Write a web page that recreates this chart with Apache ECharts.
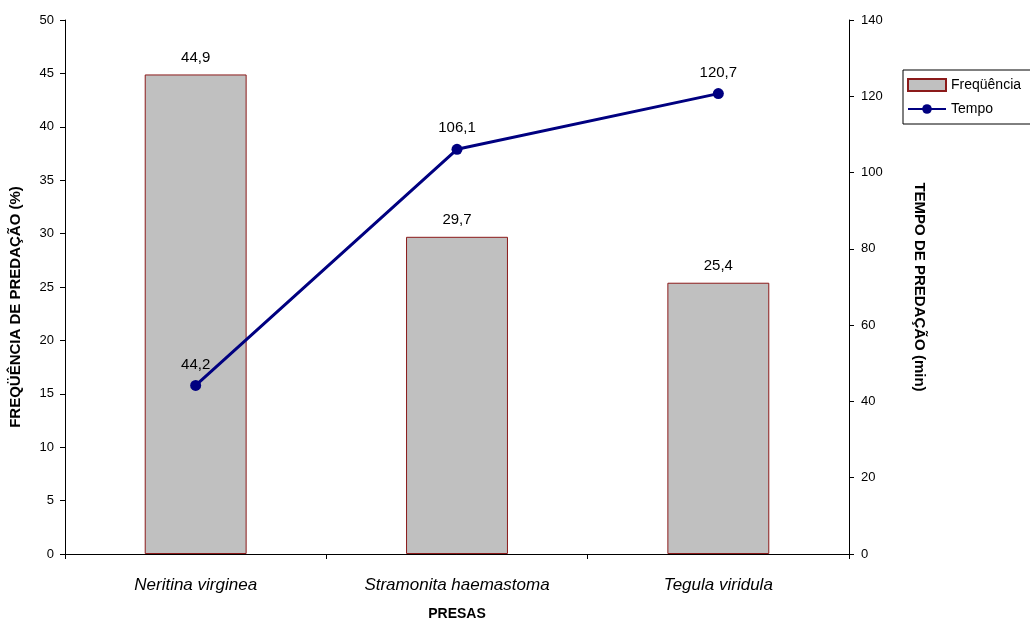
<!DOCTYPE html>
<html>
<head>
<meta charset="utf-8">
<script src="https://cdn.jsdelivr.net/npm/echarts@6/dist/echarts.min.js"></script>
<style>
  html, body {margin: 0; padding: 0; background: #fff;}
  #chart {width: 1030px; height: 621px;}
</style>
</head>
<body>
<div id="chart"></div>
<script>
const presas = ['Neritina virginea', 'Stramonita haemastoma', 'Tegula viridula']
const frequencia = [44.9, 29.7, 25.4]
const tempo = [44.2, 106.1, 120.7]

const comma = p => String(p.value).replace('.', ',')
const font = 'Arial, "Liberation Sans", sans-serif'

const chart = echarts.init(document.getElementById('chart'))
chart.setOption({
  animation: false,
  textStyle: {fontFamily: font, color: '#000'},
  grid: {left: 65, right: 181, top: 20, bottom: 67, containLabel: false, outerBoundsMode: 'none'},
  legend: {
    left: 903, top: 70, orient: 'vertical',
    borderColor: '#000', borderWidth: 1, borderRadius: 0,
    padding: [8, 10, 8, 4], itemGap: 10, itemWidth: 38, itemHeight: 12,
    textStyle: {fontSize: 14, color: '#000', fontFamily: font},
    data: [
      {name: 'Freqüência', icon: 'rect'},
      {name: 'Tempo'}
    ]
  },
  xAxis: {
    type: 'category',
    data: presas,
    name: 'PRESAS',
    nameLocation: 'middle',
    nameGap: 53,
    nameTextStyle: {fontWeight: 'bold', fontSize: 14, color: '#000'},
    axisLine: {lineStyle: {color: '#000', width: 1}},
    axisTick: {show: true, length: 5, lineStyle: {color: '#000'}},
    axisLabel: {fontStyle: 'italic', fontSize: 17, color: '#000', margin: 23}
  },
  yAxis: [{
    type: 'value',
    min: 0, max: 50, interval: 5,
    name: 'FREQÜÊNCIA DE PREDAÇÃO (%)',
    nameLocation: 'middle',
    nameGap: 42,
    nameTextStyle: {fontWeight: 'bold', fontSize: 15, color: '#000', padding: [0, 40, 0, 0]},
    splitLine: {show: false},
    axisLine: {show: true, lineStyle: {color: '#000'}},
    axisTick: {show: true, length: 5, lineStyle: {color: '#000'}},
    axisLabel: {fontSize: 13, color: '#000', margin: 11}
  }, {
    type: 'value',
    min: 0, max: 140, interval: 20,
    name: 'TEMPO DE PREDAÇÃO (min)',
    nameLocation: 'middle',
    nameRotate: -90,
    nameGap: 63,
    nameTextStyle: {fontWeight: 'bold', fontSize: 15, color: '#000'},
    splitLine: {show: false},
    axisLine: {show: true, lineStyle: {color: '#000'}},
    axisTick: {show: true, length: 5, lineStyle: {color: '#000'}},
    axisLabel: {fontSize: 13, color: '#000', margin: 12}
  }],
  series: [{
    name: 'Freqüência',
    type: 'bar',
    data: frequencia,
    barWidth: '39%',
    itemStyle: {color: '#c0c0c0', borderColor: '#8b1a1a', borderWidth: 1},
    label: {show: true, position: 'top', distance: 9, fontSize: 15, color: '#000', formatter: comma}
  }, {
    name: 'Tempo',
    type: 'line',
    yAxisIndex: 1,
    data: tempo,
    symbol: 'circle',
    symbolSize: 11,
    lineStyle: {color: '#000080', width: 3},
    itemStyle: {color: '#000080'},
    label: {show: true, position: 'top', distance: 8, fontSize: 15, color: '#000', formatter: comma},
    z: 5
  }]
})
</script>
</body>
</html>
